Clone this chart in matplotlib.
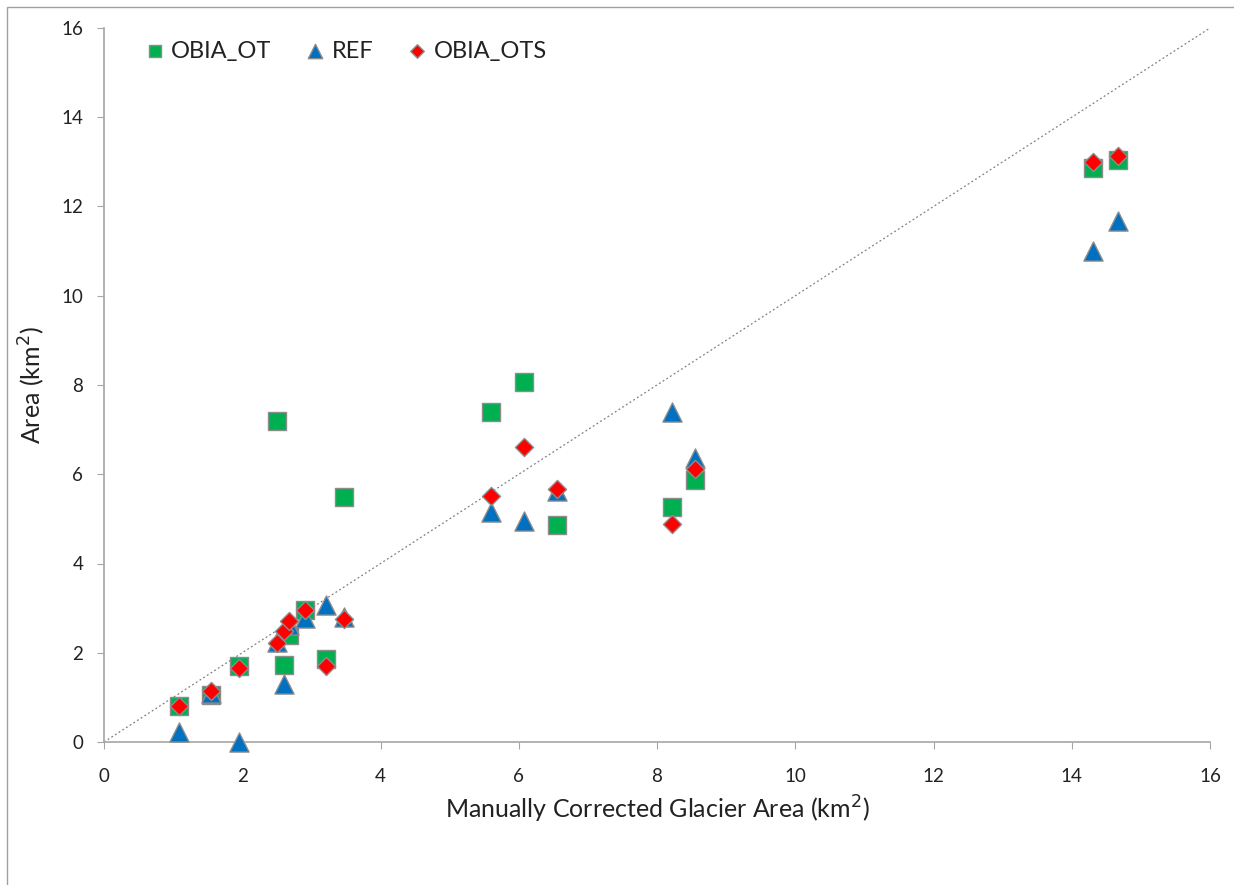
import numpy as np
import matplotlib.pyplot as plt
from matplotlib.patches import Rectangle

plt.rcParams['font.family'] = ['Lato', 'DejaVu Sans']

# manually corrected area (x) for each glacier
manual = [1.09, 1.55, 1.96, 2.50, 2.61, 2.67, 2.91, 3.21, 3.47,
          5.60, 6.07, 6.56, 8.22, 8.55, 14.31, 14.67]
obia_ot = [0.80, 1.05, 1.70, 7.19, 1.73, 2.40, 2.96, 1.85, 5.48,
           7.39, 8.06, 4.86, 5.27, 5.87, 12.86, 13.04]
ref = [0.23, 1.10, 0.00, 2.25, 1.30, 2.62, 2.78, 3.07, 2.80,
       5.16, 4.95, 5.62, 7.40, 6.37, 11.01, 11.68]
obia_ots = [0.81, 1.14, 1.65, 2.21, 2.49, 2.72, 2.96, 1.70, 2.75,
            5.51, 6.62, 5.67, 4.88, 6.12, 12.99, 13.14]

fig = plt.figure(figsize=(12.34, 8.85), dpi=100)
ax = fig.add_axes([104/1234, 1-742/885, (1210-104)/1234, (742-28)/885])

# 1:1 line
ax.plot([0, 16], [0, 16], ls=(0, (1.5, 2)), color='#808080', lw=0.9, zorder=1)

edge = '#8c8c8c'
ax.scatter(manual, obia_ot, marker='s', s=150, c='#00B050', edgecolors=edge,
           linewidths=1.0, label='OBIA_OT', zorder=3, clip_on=False)
ax.scatter(manual, ref, marker='^', s=190, c='#0070C0', edgecolors=edge,
           linewidths=1.0, label='REF', zorder=4, clip_on=False)
ax.scatter(manual, obia_ots, marker='D', s=85, c='#FF0000', edgecolors=edge,
           linewidths=1.0, label='OBIA_OTS', zorder=5, clip_on=False)

ax.set_xlim(0, 16)
ax.set_ylim(0, 16)
ax.set_xticks(np.arange(0, 17, 2))
ax.set_yticks(np.arange(0, 17, 2))
for s in ['top', 'right']:
    ax.spines[s].set_visible(False)
for s in ['left', 'bottom']:
    ax.spines[s].set_color('#a6a6a6')
    ax.spines[s].set_linewidth(1.2)
ax.tick_params(direction='out', length=5, color='#a6a6a6', labelsize=13.5,
               labelcolor='#222222')
ax.tick_params(axis='x', pad=14)
ax.tick_params(axis='y', pad=10)

ax.set_xlabel('Manually Corrected Glacier Area (km$^2$)', fontsize=18,
              color='#222222', labelpad=6)
ax.set_ylabel('Area (km$^2$)', fontsize=18, color='#222222', labelpad=10)

leg = ax.legend(loc='upper left', bbox_to_anchor=(0.018, 1.012), ncol=3,
                frameon=False, fontsize=17, handlelength=0.8,
                handletextpad=0.3, columnspacing=1.45, markerscale=0.75,
                scatterpoints=1)
for t in leg.get_texts():
    t.set_color('#222222')

# outer chart frame
fig.patches.append(Rectangle((7/1234, -0.1), 1.2, 1 - 7/885 + 0.1,
                             transform=fig.transFigure, fill=False,
                             edgecolor='#a0a0a0', lw=1.0))

fig.savefig('out.png', dpi=100)
